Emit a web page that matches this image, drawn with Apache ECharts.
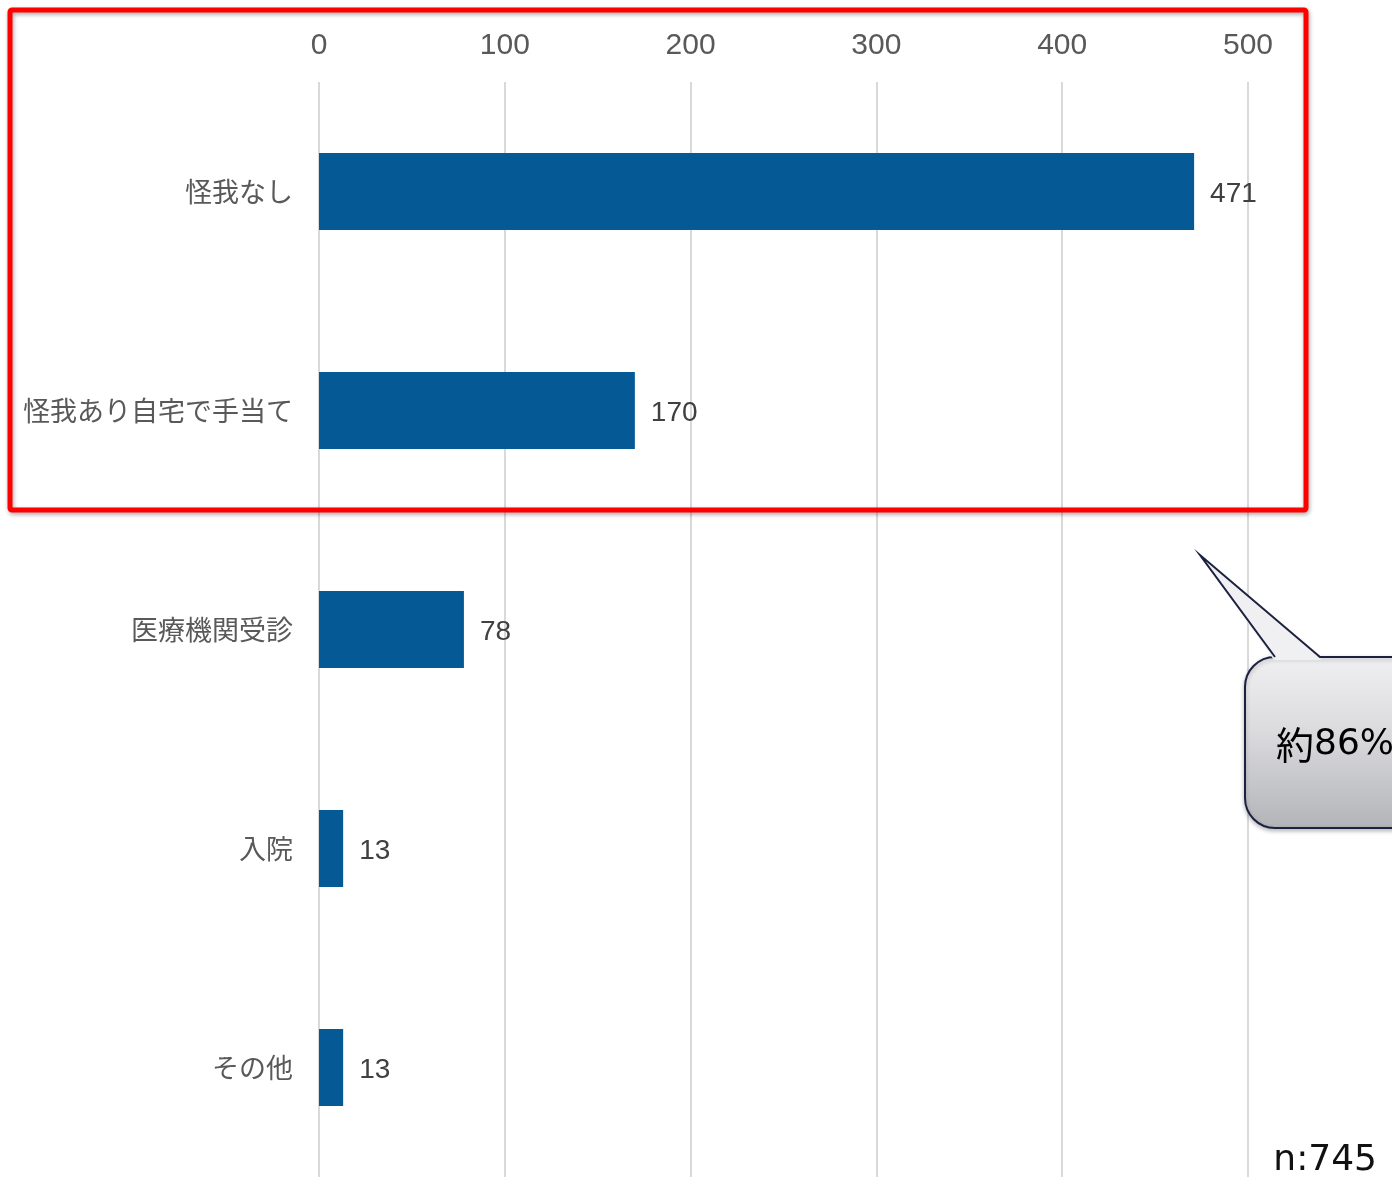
<!DOCTYPE html>
<html>
<head>
<meta charset="utf-8">
<script src="https://cdn.jsdelivr.net/npm/echarts@6/dist/echarts.min.js"></script>
<style>
  html, body { margin: 0; padding: 0; background: #ffffff; }
  #chart { width: 1392px; height: 1177px; }
</style>
</head>
<body>
<div id="chart"></div>
<script>
// 怪我の状況（件数）
const categories = ['怪我なし', '怪我あり自宅で手当て', '医療機関受診', '入院', 'その他'];
const counts = [471, 170, 78, 13, 13];
const axisTicks = [0, 100, 200, 300, 400, 500];
const calloutPrefix = '約';
const calloutValue = '86%';
const sampleText = 'n:745';

const jpFont = '"Noto Sans CJK JP", "Noto Sans", sans-serif';
const numFont = '"Liberation Sans", Arial, sans-serif';
const noteFont = '"DejaVu Sans", Verdana, sans-serif';

// shared fill for the speech bubble body and its pointer (page coordinates)
const bubbleFill = {
  type: 'linear', x: 0, y: 657, x2: 0, y2: 828, global: true,
  colorStops: [
    { offset: 0, color: '#f0f0f2' },
    { offset: 0.45, color: '#dadadd' },
    { offset: 1, color: '#b3b4b9' }
  ]
};
const bubbleStroke = '#1c2140';

const chart = echarts.init(document.getElementById('chart'), null, { renderer: 'canvas' });

chart.setOption({
  backgroundColor: '#ffffff',
  animation: false,
  grid: { left: 319, right: 144, top: 82, bottom: 0, containLabel: false },
  xAxis: {
    type: 'value',
    position: 'top',
    min: axisTicks[0],
    max: axisTicks[axisTicks.length - 1],
    interval: axisTicks[1] - axisTicks[0],
    axisLine: { show: false },
    axisTick: { show: false },
    splitLine: { show: true, lineStyle: { color: '#d9d9d9', width: 2 } },
    axisLabel: { color: '#595959', fontSize: 30, fontFamily: numFont, margin: 21 }
  },
  yAxis: {
    type: 'category',
    inverse: true,
    data: categories,
    axisLine: { show: false },
    axisTick: { show: false },
    splitLine: { show: false },
    axisLabel: {
      color: '#595959',
      fontSize: 27,
      fontFamily: jpFont,
      margin: 26,
      padding: [5, 0, 0, 0]
    }
  },
  series: [{
    type: 'bar',
    data: counts,
    barWidth: 77,
    itemStyle: { color: '#055a96' },
    label: {
      show: true,
      position: 'right',
      distance: 16,
      offset: [0, 3],
      color: '#404040',
      fontSize: 28,
      fontFamily: numFont
    }
  }],
  graphic: [
    {
      type: 'rect',
      z: 100,
      shape: { x: 10, y: 10, width: 1296, height: 500, r: 2 },
      style: {
        fill: 'none',
        stroke: '#ff0000',
        lineWidth: 5,
        shadowBlur: 4,
        shadowColor: 'rgba(0,0,0,0.35)',
        shadowOffsetX: 1,
        shadowOffsetY: 2
      }
    },
    {
      type: 'rect',
      z: 100,
      shape: { x: 1245, y: 657, width: 220, height: 171, r: 30 },
      style: {
        fill: bubbleFill,
        stroke: bubbleStroke,
        lineWidth: 2,
        shadowBlur: 4,
        shadowColor: 'rgba(0,0,0,0.25)',
        shadowOffsetY: 2
      }
    },
    {
      type: 'polygon',
      z: 101,
      shape: { points: [[1274, 660], [1200, 555], [1322, 660]] },
      style: { fill: bubbleFill }
    },
    {
      type: 'polyline',
      z: 102,
      shape: { points: [[1275, 657], [1200, 555], [1320, 657]] },
      style: { fill: null, stroke: bubbleStroke, lineWidth: 2 }
    },
    {
      type: 'text',
      z: 103,
      style: {
        x: 1276,
        y: 745,
        text: '{k|' + calloutPrefix + '}{n|' + calloutValue + '}',
        verticalAlign: 'middle',
        align: 'left',
        rich: {
          k: { fontFamily: jpFont, fontSize: 38, color: '#111111', lineHeight: 40, verticalAlign: 'middle' },
          n: { fontFamily: noteFont, fontSize: 36, color: '#111111', lineHeight: 40, verticalAlign: 'middle' }
        }
      }
    },
    {
      type: 'text',
      z: 103,
      style: {
        x: 1377,
        y: 1161,
        text: sampleText,
        fill: '#111111',
        font: '36px ' + noteFont,
        verticalAlign: 'middle',
        align: 'right'
      }
    }
  ]
});
</script>
</body>
</html>
